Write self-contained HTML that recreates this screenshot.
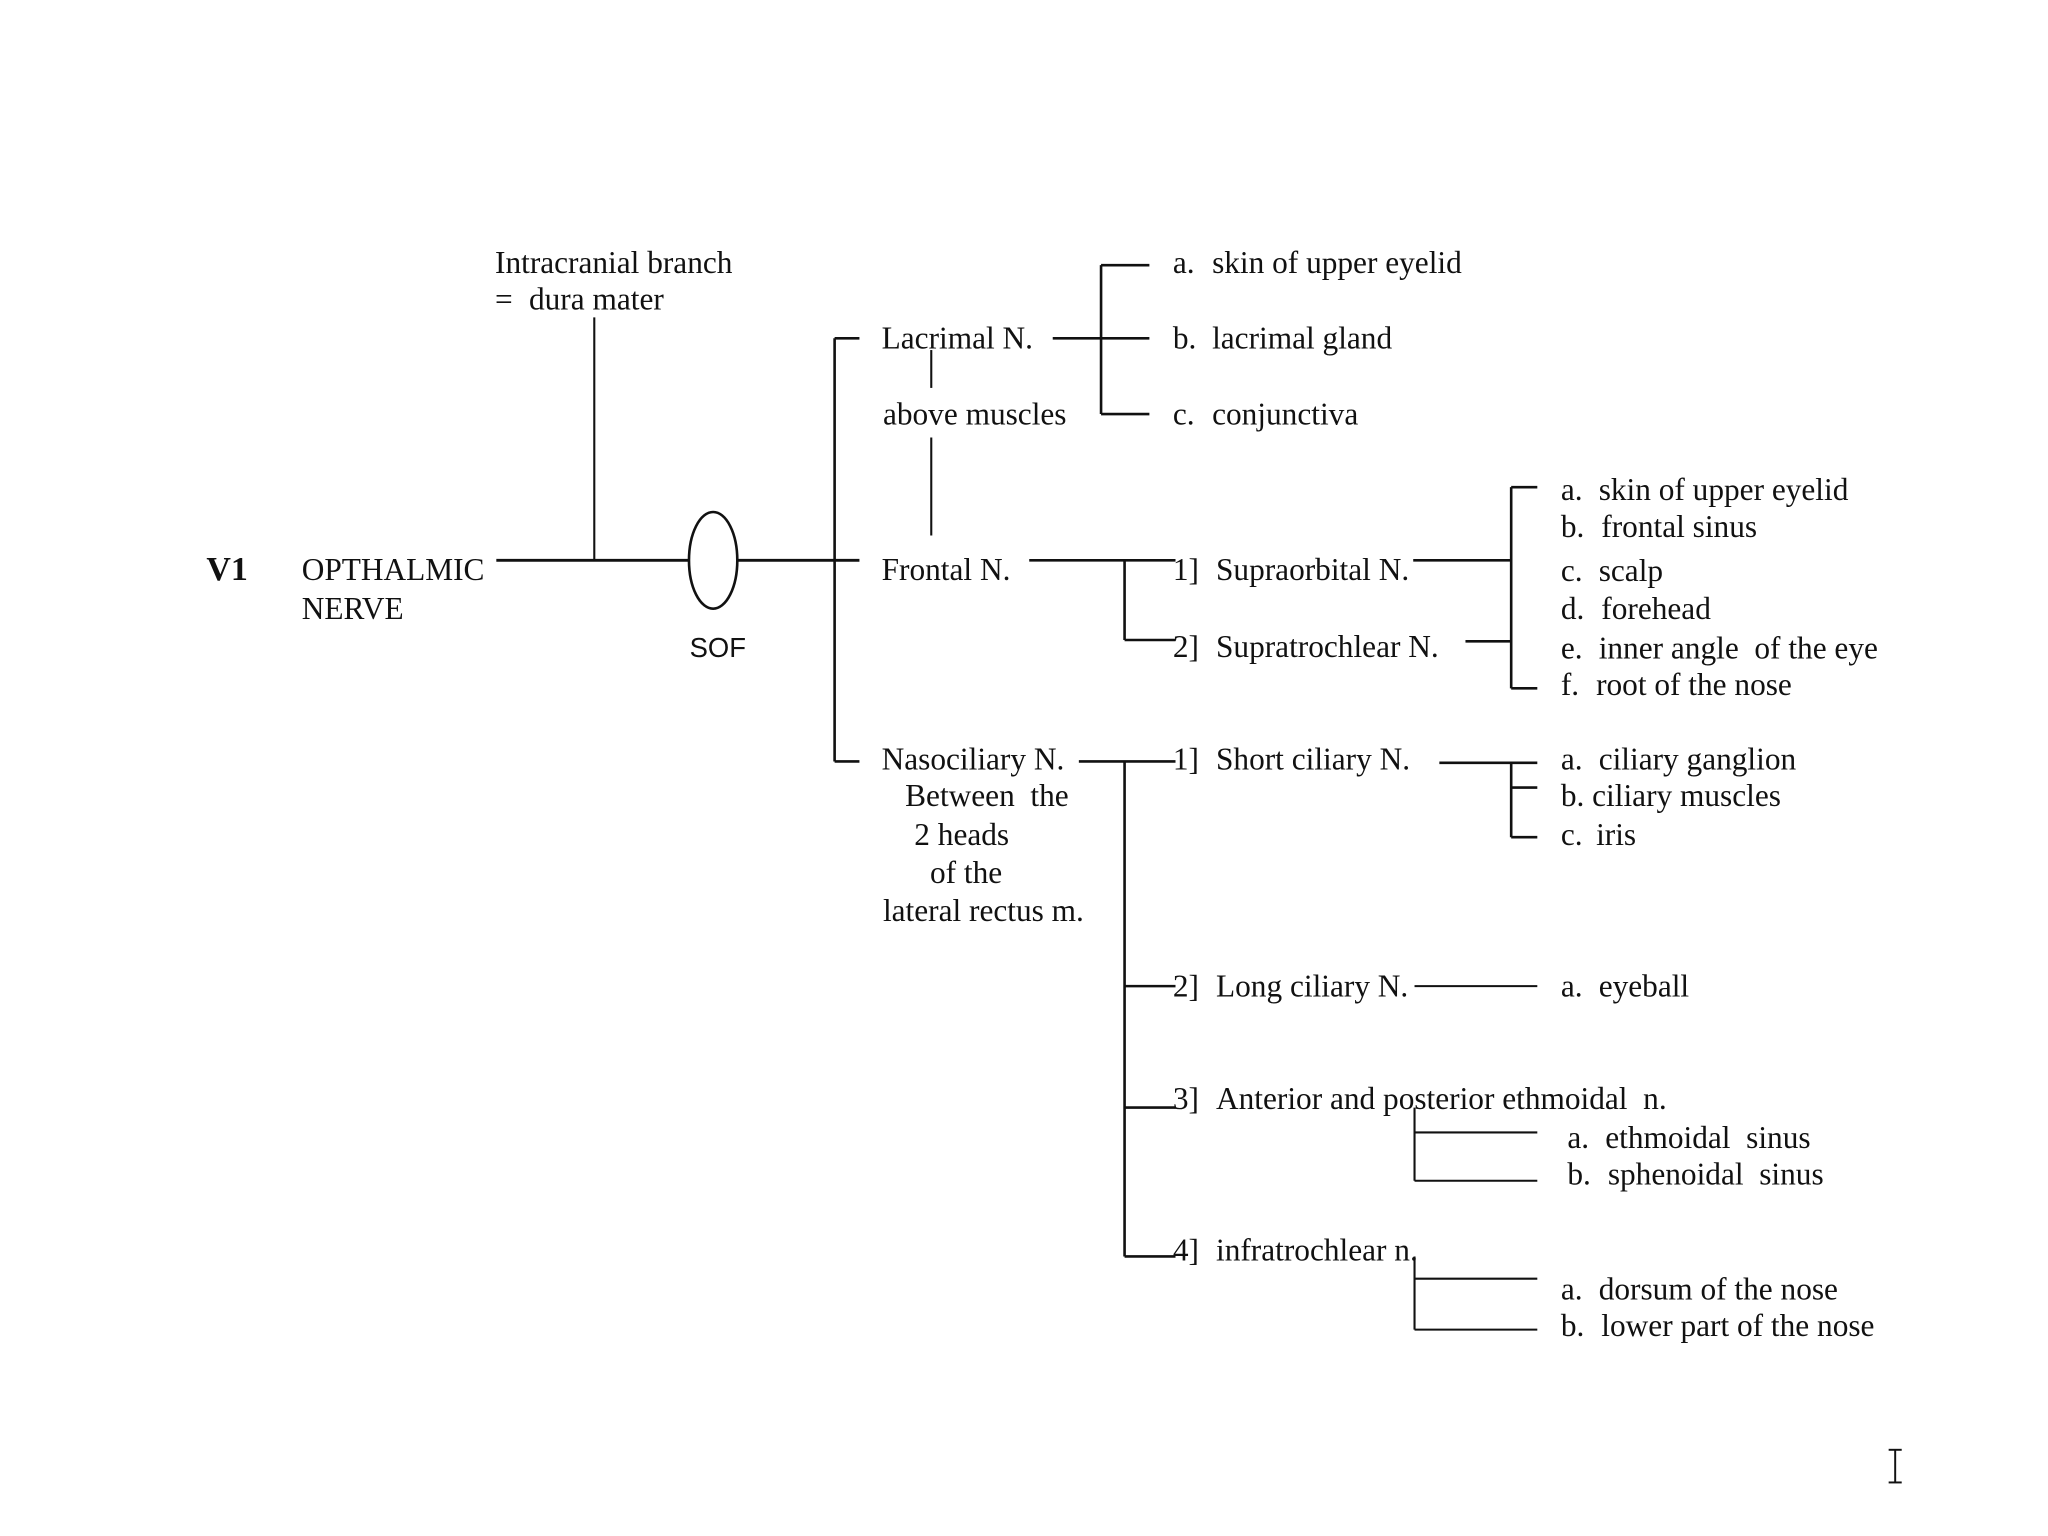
<!DOCTYPE html>
<html><head><meta charset="utf-8"><style>
html,body{margin:0;padding:0;background:#fff;}
svg{display:block;}
text{font-family:"Liberation Serif",serif;font-size:24px;fill:#111;white-space:pre;}
.s{font-family:"Liberation Sans",sans-serif;}
</style></head><body>
<svg width="2048" height="1536" viewBox="0 0 1568 1176" xmlns="http://www.w3.org/2000/svg">
<rect width="1568" height="1176" fill="#fff"/>
<g stroke="#111" stroke-width="1.6" fill="none">
<line x1="380" y1="429" x2="527" y2="429" stroke-width="2.2"/>
<line x1="565" y1="429" x2="658" y2="429" stroke-width="2.2"/>
<ellipse cx="546" cy="429" rx="18.5" ry="37" stroke-width="2"/>
<line x1="455" y1="243" x2="455" y2="429"/>
<line x1="639" y1="259" x2="639" y2="583" stroke-width="2"/>
<line x1="639" y1="259" x2="658" y2="259" stroke-width="2"/>
<line x1="639" y1="583" x2="658" y2="583" stroke-width="2"/>
<line x1="713" y1="268" x2="713" y2="297"/>
<line x1="713" y1="335" x2="713" y2="410"/>
<line x1="806" y1="259" x2="880" y2="259" stroke-width="2"/>
<line x1="843" y1="203" x2="843" y2="317" stroke-width="2"/>
<line x1="843" y1="203" x2="880" y2="203" stroke-width="2"/>
<line x1="843" y1="317" x2="880" y2="317" stroke-width="2"/>
<line x1="788" y1="429" x2="900" y2="429" stroke-width="2"/>
<line x1="861" y1="429" x2="861" y2="490" stroke-width="2"/>
<line x1="861" y1="490" x2="900" y2="490" stroke-width="2"/>
<line x1="1082" y1="429" x2="1157" y2="429" stroke-width="2"/>
<line x1="1122" y1="491" x2="1157" y2="491" stroke-width="2"/>
<line x1="1157" y1="373" x2="1157" y2="527" stroke-width="2"/>
<line x1="1157" y1="373" x2="1177" y2="373" stroke-width="2"/>
<line x1="1157" y1="527" x2="1177" y2="527" stroke-width="2"/>
<line x1="826" y1="583" x2="900" y2="583" stroke-width="2"/>
<line x1="861" y1="583" x2="861" y2="962" stroke-width="2"/>
<line x1="861" y1="755" x2="900" y2="755" stroke-width="2"/>
<line x1="861" y1="848" x2="900" y2="848" stroke-width="2"/>
<line x1="861" y1="962" x2="900" y2="962" stroke-width="2"/>
<line x1="1102" y1="584" x2="1177" y2="584" stroke-width="2"/>
<line x1="1157" y1="584" x2="1157" y2="641" stroke-width="2"/>
<line x1="1157" y1="603" x2="1177" y2="603" stroke-width="2"/>
<line x1="1157" y1="641" x2="1177" y2="641" stroke-width="2"/>
<line x1="1083" y1="755" x2="1177" y2="755" stroke-width="1.6"/>
<line x1="1083" y1="848" x2="1083" y2="904"/>
<line x1="1083" y1="867" x2="1177" y2="867"/>
<line x1="1083" y1="904" x2="1177" y2="904"/>
<line x1="1083" y1="962" x2="1083" y2="1018"/>
<line x1="1083" y1="979" x2="1177" y2="979"/>
<line x1="1083" y1="1018" x2="1177" y2="1018"/>
<line x1="1451" y1="1110" x2="1451" y2="1135" stroke-width="1.5"/>
<line x1="1446" y1="1110" x2="1456" y2="1110" stroke-width="1.5"/>
<line x1="1446" y1="1135" x2="1456" y2="1135" stroke-width="1.5"/>
</g>
<text x="158" y="444" style="font-weight:bold;font-size:26px">V1</text>
<text x="231" y="444">OPTHALMIC</text>
<text x="231" y="474">NERVE</text>
<text x="379" y="209">Intracranial branch</text>
<text x="379" y="237">=</text><text x="405" y="237">dura mater</text>
<text x="528" y="503" class="s" style="font-size:21px">SOF</text>
<text x="675" y="267">Lacrimal N.</text>
<text x="676" y="325">above muscles</text>
<text x="675" y="444">Frontal N.</text>
<text x="675" y="589">Nasociliary N.</text>
<text x="693" y="617">Between  the</text>
<text x="700" y="647">2 heads</text>
<text x="712" y="676">of the</text>
<text x="676" y="705">lateral rectus m.</text>
<text x="898" y="209">a.</text><text x="928" y="209">skin of upper eyelid</text>
<text x="898" y="267">b.</text><text x="928" y="267">lacrimal gland</text>
<text x="898" y="325">c.</text><text x="928" y="325">conjunctiva</text>
<text x="898" y="444">1]</text><text x="931" y="444">Supraorbital N.</text>
<text x="898" y="503">2]</text><text x="931" y="503">Supratrochlear N.</text>
<text x="1195" y="383">a.</text><text x="1224" y="383">skin of upper eyelid</text>
<text x="1195" y="411">b.</text><text x="1226" y="411">frontal sinus</text>
<text x="1195" y="445">c.</text><text x="1224" y="445">scalp</text>
<text x="1195" y="474">d.</text><text x="1226" y="474">forehead</text>
<text x="1195" y="504">e.</text><text x="1224" y="504">inner angle  of the eye</text>
<text x="1195" y="532">f.</text><text x="1222" y="532">root of the nose</text>
<text x="898" y="589">1]</text><text x="931" y="589">Short ciliary N.</text>
<text x="1195" y="589">a.</text><text x="1224" y="589">ciliary ganglion</text>
<text x="1195" y="617">b.</text><text x="1219" y="617">ciliary muscles</text>
<text x="1195" y="647">c.</text><text x="1222" y="647">iris</text>
<text x="898" y="763">2]</text><text x="931" y="763">Long ciliary N.</text>
<text x="1195" y="763">a.</text><text x="1224" y="763">eyeball</text>
<text x="898" y="849">3]</text><text x="931" y="849">Anterior and posterior ethmoidal  n.</text>
<text x="1200" y="879">a.</text><text x="1229" y="879">ethmoidal  sinus</text>
<text x="1200" y="907">b.</text><text x="1231" y="907">sphenoidal  sinus</text>
<text x="898" y="965">4]</text><text x="931" y="965">infratrochlear n.</text>
<text x="1195" y="995">a.</text><text x="1224" y="995">dorsum of the nose</text>
<text x="1195" y="1023">b.</text><text x="1226" y="1023">lower part of the nose</text>
</svg>
</body></html>
